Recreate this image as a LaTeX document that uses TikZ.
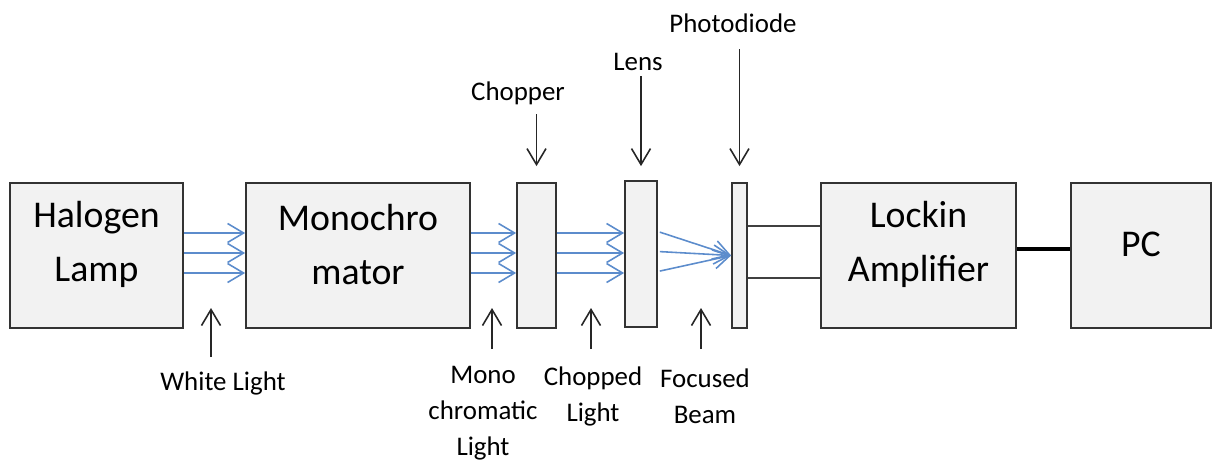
\documentclass[tikz,border=0pt]{standalone}
\usepackage{fontspec}
\setmainfont{Carlito}
\usepackage{xcolor}
\definecolor{beamblue}{rgb}{0.36, 0.55, 0.80}
\definecolor{boxgray}{rgb}{0.95, 0.95, 0.95}
\usepackage{tikz}
\usetikzlibrary{arrows.meta,positioning,calc}
\newcommand{\blockfont}{\fontsize{21.5}{31}\selectfont}
\newcommand{\notefont}{\fontsize{15.3}{20.5}\selectfont}
\tikzset{
  >={Straight Barb[length=3.2mm,width=3.8mm]},
  block/.style={rectangle,draw=black!80,line width=1pt,fill=boxgray,minimum height=2.9cm,inner sep=0pt},
  blocktext/.style={align=center,font=\blockfont,yshift=0.22cm},
  note/.style={align=center,font=\notefont,inner sep=0pt},
  pointer/.style={->,draw=black!85,line width=0.9pt},
  beam/.style={->,draw=beamblue,line width=0.9pt},
  wire/.style={draw=black!75,line width=0.9pt},
  bus/.style={draw=black,line width=2.8pt}
}

\begin{document}
\begin{tikzpicture}
  \useasboundingbox (0,0) rectangle (24.26,9.32);

  % Main blocks
  \node[block,minimum width=3.46cm,label={[blocktext]center:Halogen\\Lamp}] (lamp) at (1.93,4.21) {};
  \node[block,minimum width=4.48cm,label={[blocktext]center:Monochro\\mator}] (mono) at (7.16,4.21) {};
  \node[block,minimum width=0.78cm] (chopper) at (10.73,4.21) {};
  \node[block,minimum width=0.64cm,minimum height=2.92cm] (lens) at (12.82,4.24) {};
  \node[block,minimum width=0.3cm] (diode) at (14.79,4.21) {};
  \node[block,minimum width=3.9cm,label={[blocktext]center:Lockin\\Amplifier}] (lockin) at (18.37,4.21) {};
  \node[block,minimum width=2.8cm,label={[blocktext]center:PC}] (pc) at (22.82,4.21) {};

  % Light beams
  \foreach \dy in {0.45,0.05,-0.35} {
    \draw[beam] ([yshift=\dy cm]lamp.east) -- ([yshift=\dy cm]mono.west);
    \draw[beam] ([yshift=\dy cm]mono.east) -- ([yshift=\dy cm]chopper.west);
    \draw[beam] ([yshift=\dy cm]chopper.east) -- ([yshift=\dy cm]chopper.east -| lens.west);
    \draw[beam,shorten <=0.04cm] ([yshift=\dy cm]lens.east) -- (diode.west);
  }

  % Signal lines
  \draw[wire] ([yshift=0.59cm]diode.east) -- ([yshift=0.59cm]diode.east -| lockin.west);
  \draw[wire] ([yshift=-0.45cm]diode.east) -- ([yshift=-0.45cm]diode.east -| lockin.west);
  \draw[bus] ([yshift=0.13cm]lockin.east) -- ([yshift=0.13cm]lockin.east -| pc.west);

  % Top labels
  \node[note] (chopperlbl) at (10.36,7.46) {Chopper};
  \node[note] (lenslbl) at (12.76,8.08) {Lens};
  \node[note] (diodelbl) at (14.66,8.86) {Photodiode};
  \draw[pointer] ([yshift=1.36cm]chopper.north) -- ([yshift=0.32cm]chopper.north);
  \draw[pointer] ([yshift=2.08cm]lens.north) -- ([yshift=0.28cm]lens.north);
  \draw[pointer] ([yshift=2.66cm]diode.north) -- ([yshift=0.32cm]diode.north);

  % Bottom labels
  \coordinate (whitetip) at (4.22,3.16);
  \coordinate (monotip) at (9.84,3.16);
  \coordinate (choppedtip) at (11.82,3.16);
  \coordinate (focusedtip) at (14.02,3.16);
  \node[note] (whitelbl) at (4.46,1.66) {White Light};
  \node[note] (monolbl) at (9.66,1.06) {Mono\\chromatic\\Light};
  \node[note] (choppedlbl) at (11.86,1.40) {Chopped\\Light};
  \node[note] (focusedlbl) at (14.10,1.40) {Focused\\Beam};
  \draw[pointer] (whitetip) ++(0,-0.98) -- (whitetip);
  \draw[pointer] (monotip) ++(0,-0.82) -- (monotip);
  \draw[pointer] (choppedtip) ++(0,-0.82) -- (choppedtip);
  \draw[pointer] (focusedtip) ++(0,-0.82) -- (focusedtip);
\end{tikzpicture}
\end{document}
